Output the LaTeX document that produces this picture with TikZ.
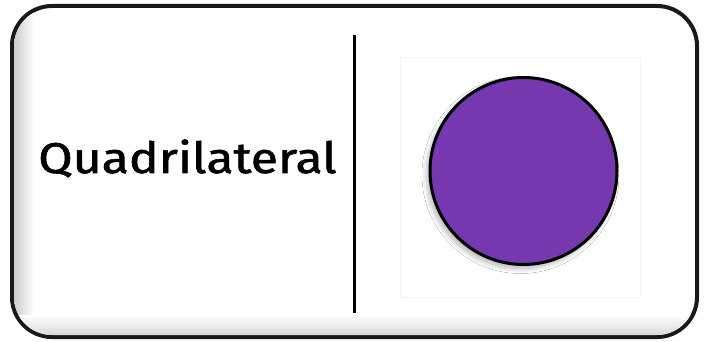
\documentclass[tikz,border=0pt]{standalone}
\usepackage{fontspec}
\setmainfont{Fira Sans}
\newfontfamily\labfont[FakeBold=1.3]{Fira Sans}
\usetikzlibrary{shadows.blur}
\definecolor{dotpurple}{HTML}{7638AE}
\tikzset{
  frame/.style={draw=black!90, line width=4pt, rounded corners=40pt, fill=white},
  divider/.style={draw=black, line width=3pt},
  dot/.style={circle, draw=black, line width=3pt, fill=dotpurple, minimum size=187pt, inner sep=0pt,
    blur shadow={shadow xshift=-3pt, shadow yshift=-4pt, shadow blur steps=10, shadow blur radius=5pt, shadow opacity=30}},
  label/.style={font=\labfont\fontsize{43}{48}\selectfont, text=black, inner sep=0pt, xscale=1.16}
}
\begin{document}
\begin{tikzpicture}[x=1pt,y=-1pt]
\useasboundingbox (0,0) rectangle (707,342);
\fill[white] (0,0) rectangle (707,342);
\node[frame, minimum width=685pt, minimum height=331pt, rectangle, inner sep=0pt] (box) at (354.5,171.5) {};
\begin{scope}
\clip[rounded corners=38pt] (14,8) rectangle (695,335);
\shade[left color=black!20, right color=white] (14,8) rectangle (34,335);
\shade[bottom color=black!15, top color=white] (14,315) rectangle (695,335);
\end{scope}
\draw[draw=black!5, line width=0.8pt] (400,57) rectangle (640,297);
\coordinate (dtop) at (354,35);
\coordinate (dbot) at (354,313);
\draw[divider] (dtop) -- (dbot);
\node[label, anchor=base] (word) at (187.5,173) {Quadrilateral};
\node[dot] (circ) at (523.5,171) {};
\end{tikzpicture}
\end{document}
